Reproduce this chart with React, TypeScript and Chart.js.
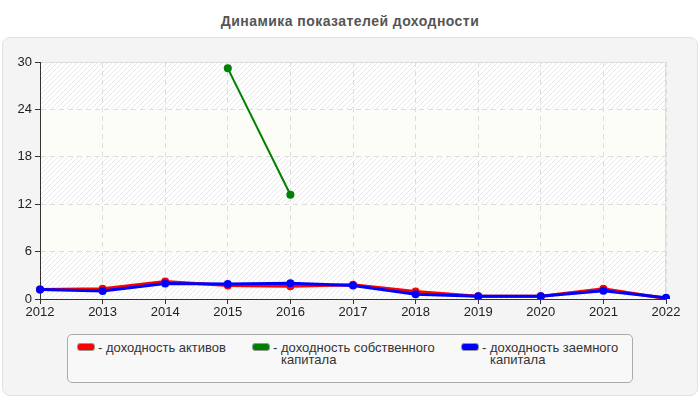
import { useEffect, useRef } from "react"
import { Chart, registerables } from "chart.js"

Chart.register(...registerables)

const years = ["2012", "2013", "2014", "2015", "2016", "2017", "2018", "2019", "2020", "2021", "2022"]
const assetsReturn = [1.2, 1.3, 2.2, 1.7, 1.6, 1.8, 0.95, 0.35, 0.35, 1.3, 0.05]
const equityReturn = [null, null, null, 29.2, 13.2, null, null, null, null, null, 0]
const debtReturn = [1.2, 1.0, 1.95, 1.9, 2.0, 1.7, 0.6, 0.35, 0.35, 1.05, 0.15]
const yTicks = [0, 6, 12, 18, 24, 30]

const FONT = "'Liberation Sans', Arial, sans-serif"

const legendItems = [
  { color: "#ff0000", text: "доходность активов", left: 77, dash: 98, label: 106, width: 200 },
  { color: "#008000", text: "доходность собственного капитала", left: 252, dash: 273, label: 281, width: 165 },
  { color: "#0000ff", text: "доходность заемного капитала", left: 461, dash: 482, label: 490, width: 140 },
]

function makeHatch(ctx: CanvasRenderingContext2D) {
  const c = document.createElement("canvas")
  c.width = 5
  c.height = 5
  const p = c.getContext("2d")!
  p.fillStyle = "#ffffff"
  p.fillRect(0, 0, 5, 5)
  p.strokeStyle = "#e8e8e8"
  p.lineWidth = 1
  p.beginPath()
  p.moveTo(0, 5)
  p.lineTo(5, 0)
  p.moveTo(-1, 1)
  p.lineTo(1, -1)
  p.moveTo(4, 6)
  p.lineTo(6, 4)
  p.stroke()
  return ctx.createPattern(c, "repeat")
}

const bandsPlugin = {
  id: "bands",
  beforeDraw(chart: any) {
    const { ctx, chartArea, scales } = chart
    const { left, right, top, bottom } = chartArea
    ctx.save()
    ctx.fillStyle = makeHatch(ctx) || "#fff"
    ctx.fillRect(left, top, right - left, bottom - top)
    ctx.fillStyle = "#fdfdf7"
    for (let i = 1; i < yTicks.length - 1; i += 2) {
      const y1 = scales.y.getPixelForValue(yTicks[i + 1])
      const y2 = scales.y.getPixelForValue(yTicks[i])
      ctx.fillRect(left, y1, right - left, y2 - y1)
    }
    ctx.strokeStyle = "#dddddd"
    ctx.lineWidth = 1
    ctx.strokeRect(left + 0.5, top + 0.5, right - left - 1, bottom - top)
    ctx.restore()
  },
}

export default function App() {
  const chartRef = useRef<HTMLCanvasElement>(null)
  const chartInstance = useRef<Chart | null>(null)

  useEffect(() => {
    if (!chartRef.current) return
    if (chartInstance.current) chartInstance.current.destroy()

    chartInstance.current = new Chart(chartRef.current, {
      type: "line",
      data: {
        labels: years,
        datasets: [
          {
            label: "доходность активов",
            data: assetsReturn,
            borderColor: "#ff0000",
            backgroundColor: "#ff0000",
            borderWidth: 3,
            pointRadius: 4,
            pointBorderWidth: 0,
            tension: 0,
            order: 3,
          },
          {
            label: "доходность собственного капитала",
            data: equityReturn,
            borderColor: "#008000",
            backgroundColor: "#008000",
            borderWidth: 2,
            pointRadius: 4,
            pointBorderWidth: 0,
            tension: 0,
            order: 2,
          },
          {
            label: "доходность заемного капитала",
            data: debtReturn,
            borderColor: "#0000ff",
            backgroundColor: "#0000ff",
            borderWidth: 3,
            pointRadius: 4,
            pointBorderWidth: 0,
            tension: 0,
            order: 1,
          },
        ],
      },
      options: {
        responsive: false,
        animation: false,
        layout: { padding: { left: 0, right: 34, top: 62, bottom: 0 } },
        scales: {
          x: {
            offset: false,
            afterFit: (s: any) => {
              s.height = 101
            },
            grid: {
              color: "#dddddd",
              tickColor: "#333333",
              tickLength: 5,
              tickBorderDash: [],
            },
            border: { color: "#333333", width: 1, dash: [5, 4] },
            ticks: { color: "#222", font: { family: FONT, size: 13 }, padding: 1, maxRotation: 0 },
          },
          y: {
            min: 0,
            max: 30,
            afterFit: (s: any) => {
              s.width = 40
            },
            grid: {
              color: "#dddddd",
              tickColor: "#333333",
              tickLength: 5,
              tickBorderDash: [],
            },
            border: { color: "#333333", width: 1, dash: [5, 4] },
            ticks: {
              stepSize: 6,
              color: "#222",
              font: { family: FONT, size: 13 },
              padding: 3,
            },
          },
        },
        plugins: {
          legend: { display: false },
          title: { display: false },
          tooltip: { enabled: false },
        },
      },
      plugins: [bandsPlugin],
    })

    return () => {
      if (chartInstance.current) {
        chartInstance.current.destroy()
        chartInstance.current = null
      }
    }
  }, [])

  return (
    <div
      style={{
        position: "fixed",
        left: 0,
        top: 0,
        width: 700,
        height: 400,
        background: "#fff",
        fontFamily: FONT,
      }}
    >
      <div
        style={{
          position: "absolute",
          left: 0,
          top: 13,
          width: 700,
          textAlign: "center",
          fontSize: 14,
          lineHeight: "16px",
          fontWeight: "bold",
          letterSpacing: 0.45,
          color: "#555",
        }}
      >
        Динамика показателей доходности
      </div>
      <div
        style={{
          position: "absolute",
          left: 2,
          top: 37,
          width: 694,
          height: 357,
          background: "#f4f4f4",
          border: "1px solid #e2e2e2",
          borderRadius: 8,
        }}
      />
      <canvas ref={chartRef} width={700} height={400} style={{ position: "absolute", left: 0, top: 0 }} />
      <div
        style={{
          position: "absolute",
          left: 67,
          top: 334,
          width: 564,
          height: 47,
          background: "#f8f8f8",
          border: "1px solid #aaaaaa",
          borderRadius: 5,
        }}
      />
      {legendItems.map((it) => (
        <div key={it.text}>
          <div
            style={{
              position: "absolute",
              left: it.left,
              top: 343,
              width: 16,
              height: 6,
              background: it.color,
              border: "1px solid #999",
              borderRadius: 3,
            }}
          />
          <div style={{ position: "absolute", left: it.dash, top: 342, fontSize: 13, lineHeight: "12px", color: "#333" }}>
            -
          </div>
          <div
            style={{
              position: "absolute",
              left: it.label,
              top: 342,
              width: it.width,
              fontSize: 13,
              lineHeight: "12px",
              color: "#333",
            }}
          >
            {it.text}
          </div>
        </div>
      ))}
    </div>
  )
}
